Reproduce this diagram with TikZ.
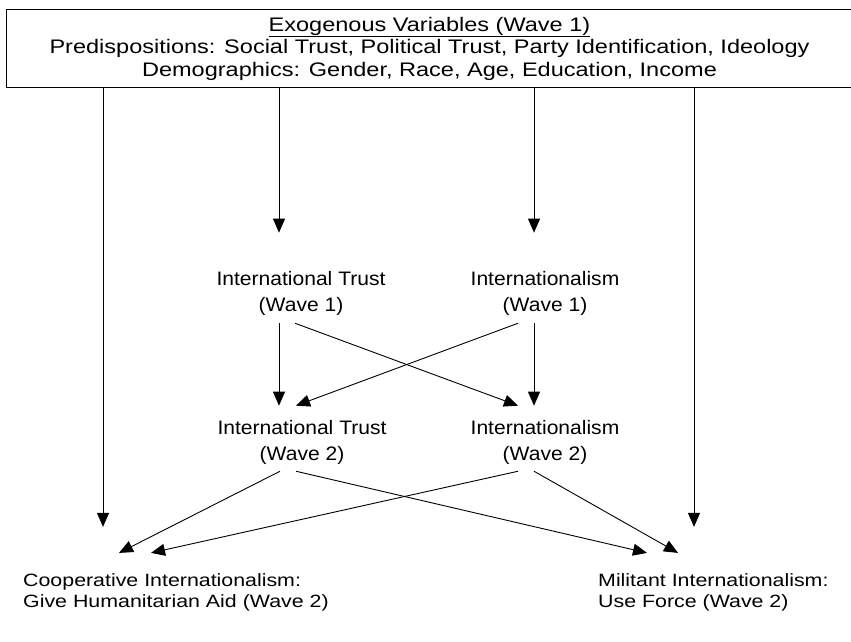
\documentclass[tikz,border=0pt]{standalone}
\usepackage{fontspec}
\newfontfamily\boxfont[FakeStretch=1.2]{Liberation Sans}
\newfontfamily\varfont[FakeStretch=1.08]{Liberation Sans}
\usetikzlibrary{arrows.meta}
\begin{document}
\begin{tikzpicture}[x=1pt,y=-1pt,
  arr/.style={line width=0.9pt,-{Triangle[length=14pt,width=12pt]}},
  var/.style={align=center,inner sep=0pt,anchor=base,font=\varfont\fontsize{19.5}{26}\selectfont},
  outc/.style={align=left,inner sep=0pt,anchor=base west,font=\boxfont\fontsize{17.8}{21}\selectfont}]
\useasboundingbox (0,0) rectangle (851,642);
\node[draw,line width=1pt,minimum width=847pt,minimum height=77pt,inner sep=0pt,align=center,
  font=\boxfont\fontsize{19.6}{22.5}\selectfont] (exo) at (429.5,48.5)
  {\underline{Exogenous Variables (Wave 1)}\\
   Predispositions: Social Trust, Political Trust, Party Identification, Ideology\\
   Demographics: Gender, Race, Age, Education, Income};
\node[var] (it1) at (301,311) {International Trust\\(Wave 1)};
\node[var] (in1) at (545,311) {Internationalism\\(Wave 1)};
\node[var] (it2) at (302,460) {International Trust\\(Wave 2)};
\node[var] (in2) at (545,460) {Internationalism\\(Wave 2)};
\node[outc] (coop) at (23,607) {Cooperative Internationalism:\\Give Humanitarian Aid (Wave 2)};
\node[outc] (mil) at (598,607) {Militant Internationalism:\\Use Force (Wave 2)};
% arrow tips below the box
\coordinate (cl) at ([xshift=80pt,yshift=46pt]coop.north west);
\coordinate (cr) at ([xshift=96pt,yshift=46pt]mil.north west);
\coordinate (tl) at ([xshift=-22pt,yshift=38pt]it1.north);
\coordinate (tr) at ([xshift=-11pt,yshift=38pt]in1.north);
\foreach \c in {cl,tl,tr,cr}
  \draw[arr] (exo.south -| \c) -- (\c);
% wave 1 to wave 2
\foreach \a/\p/\b/\q in {it1/-22/it2/-23, in1/-11/in2/-11, it1/-6/in2/-27, in1/-27/it2/-6}
  \draw[arr] ([xshift=\p pt,yshift=-8pt]\a.south) -- ([xshift=\q pt,yshift=14pt]\b.north);
% wave 2 to the outcomes
\foreach \a/\p/\b/\q in {it2/-22/coop/96, in2/-27/coop/128, it2/-6/mil/49, in2/-11/mil/80}
  \draw[arr] ([xshift=\p pt,yshift=-7pt]\a.south) -- ([xshift=\q pt,yshift=20pt]\b.north west);
\end{tikzpicture}
\end{document}
